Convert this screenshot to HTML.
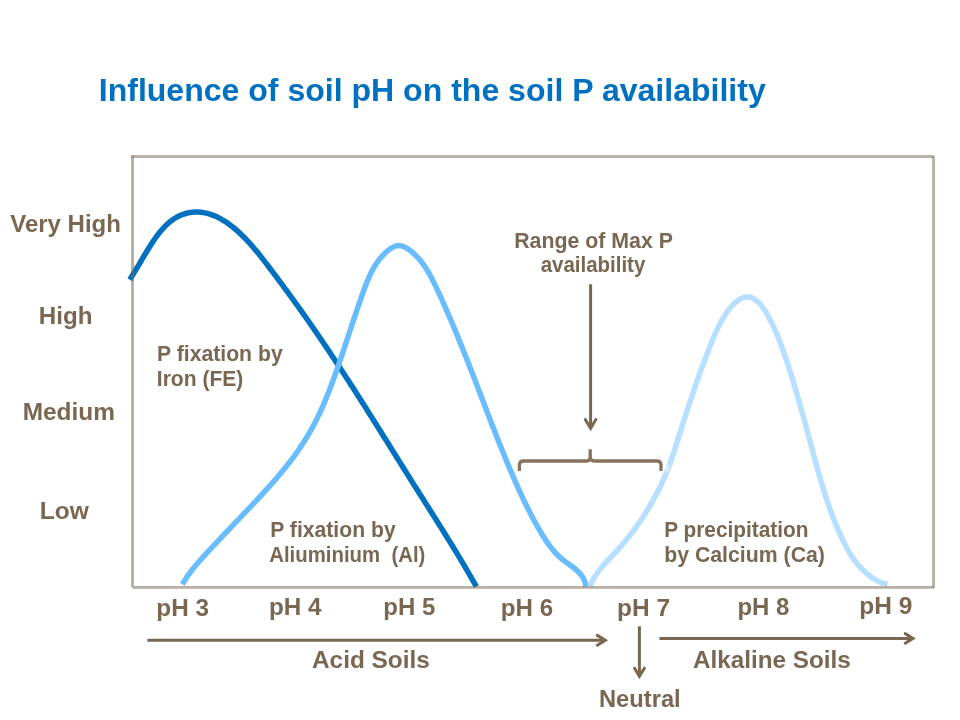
<!DOCTYPE html>
<html><head><meta charset="utf-8"><style>
html,body{margin:0;padding:0;background:#fff;}
body{width:960px;height:720px;overflow:hidden;position:relative;}
svg{position:absolute;left:0;top:0;will-change:transform;}
text{font-family:"Liberation Sans",sans-serif;font-weight:bold;fill:#7a6752;}
</style></head><body>
<svg width="960" height="720" viewBox="0 0 960 720">
<g fill="none" stroke-width="5.5" stroke-linejoin="round">
<path d="M129.75,279.65 L131.30,277.22 L132.81,274.79 L134.30,272.35 L135.77,269.92 L137.23,267.48 L138.68,265.03 L140.12,262.59 L141.56,260.13 L143.02,257.67 L144.48,255.20 L145.97,252.72 L147.48,250.23 L149.02,247.73 L150.59,245.23 L152.21,242.73 L153.86,240.25 L155.57,237.80 L157.33,235.39 L159.14,233.03 L161.02,230.74 L162.95,228.52 L164.96,226.40 L167.04,224.38 L169.19,222.47 L171.42,220.68 L173.74,219.04 L176.15,217.54 L178.65,216.20 L181.23,215.03 L183.88,214.04 L186.59,213.24 L189.35,212.62 L192.15,212.21 L194.97,212.00 L197.81,212.00 L200.66,212.20 L203.50,212.60 L206.32,213.17 L209.12,213.92 L211.88,214.82 L214.59,215.86 L217.25,217.05 L219.85,218.36 L222.39,219.79 L224.89,221.32 L227.33,222.95 L229.72,224.66 L232.05,226.45 L234.34,228.30 L236.57,230.21 L238.75,232.16 L240.88,234.15 L242.96,236.17 L245.00,238.22 L247.00,240.31 L248.96,242.42 L250.89,244.57 L252.78,246.73 L254.65,248.92 L256.49,251.13 L258.30,253.35 L260.10,255.60 L261.88,257.85 L263.64,260.12 L265.40,262.40 L267.15,264.69 L268.89,266.98 L270.63,269.28 L272.37,271.58 L274.10,273.88 L275.84,276.19 L277.57,278.50 L279.30,280.81 L281.02,283.13 L282.74,285.45 L284.46,287.78 L286.18,290.11 L287.89,292.44 L289.60,294.77 L291.30,297.11 L293.00,299.45 L294.69,301.79 L296.38,304.14 L298.07,306.49 L299.75,308.84 L301.42,311.19 L303.09,313.55 L304.76,315.91 L306.42,318.28 L308.08,320.64 L309.73,323.01 L311.38,325.38 L313.02,327.76 L314.66,330.14 L316.30,332.52 L317.93,334.90 L319.56,337.28 L321.19,339.67 L322.81,342.06 L324.43,344.45 L326.04,346.85 L327.65,349.24 L329.26,351.64 L330.86,354.04 L332.46,356.44 L334.06,358.85 L335.65,361.26 L337.24,363.67 L338.83,366.08 L340.42,368.49 L342.00,370.91 L343.58,373.32 L345.15,375.74 L346.73,378.16 L348.30,380.58 L349.87,383.01 L351.43,385.43 L352.99,387.86 L354.56,390.29 L356.11,392.72 L357.67,395.15 L359.22,397.59 L360.77,400.02 L362.32,402.46 L363.87,404.90 L365.42,407.34 L366.96,409.78 L368.50,412.22 L370.04,414.66 L371.58,417.10 L373.12,419.55 L374.66,421.99 L376.20,424.44 L377.73,426.88 L379.26,429.33 L380.80,431.78 L382.33,434.22 L383.86,436.67 L385.39,439.12 L386.92,441.57 L388.45,444.02 L389.98,446.47 L391.51,448.92 L393.04,451.37 L394.57,453.82 L396.10,456.27 L397.64,458.72 L399.17,461.16 L400.70,463.61 L402.23,466.06 L403.76,468.51 L405.30,470.96 L406.83,473.40 L408.37,475.85 L409.90,478.30 L411.44,480.74 L412.98,483.18 L414.52,485.63 L416.06,488.07 L417.61,490.51 L419.15,492.95 L420.69,495.39 L422.24,497.83 L423.78,500.27 L425.33,502.71 L426.87,505.15 L428.42,507.59 L429.96,510.03 L431.51,512.47 L433.05,514.91 L434.59,517.35 L436.13,519.80 L437.67,522.24 L439.20,524.69 L440.74,527.13 L442.27,529.58 L443.80,532.03 L445.32,534.48 L446.85,536.93 L448.37,539.39 L449.89,541.84 L451.40,544.30 L452.91,546.76 L454.42,549.23 L455.92,551.69 L457.42,554.16 L458.91,556.63 L460.40,559.10 L461.88,561.58 L463.36,564.06 L464.83,566.54 L466.30,569.03 L467.76,571.52 L469.21,574.02 L470.66,576.51 L472.10,579.02 L473.54,581.52 L474.97,584.03 L476.39,586.55" stroke="#0070c0"/>
<path d="M182.52,584.41 L184.50,580.86 L186.64,577.42 L188.93,574.08 L191.35,570.82 L193.87,567.64 L196.47,564.53 L199.14,561.46 L201.86,558.43 L204.61,555.43 L207.36,552.45 L210.11,549.47 L212.87,546.50 L215.64,543.54 L218.41,540.59 L221.18,537.64 L223.95,534.70 L226.73,531.76 L229.51,528.83 L232.30,525.89 L235.09,522.96 L237.88,520.03 L240.68,517.10 L243.48,514.16 L246.28,511.22 L249.08,508.28 L251.87,505.32 L254.66,502.37 L257.44,499.40 L260.22,496.42 L262.97,493.43 L265.72,490.42 L268.44,487.40 L271.14,484.37 L273.83,481.31 L276.48,478.24 L279.11,475.15 L281.71,472.03 L284.27,468.89 L286.80,465.73 L289.30,462.54 L291.75,459.32 L294.16,456.08 L296.53,452.80 L298.85,449.49 L301.12,446.15 L303.34,442.78 L305.50,439.37 L307.61,435.92 L309.65,432.43 L311.64,428.91 L313.57,425.34 L315.44,421.74 L317.26,418.11 L319.02,414.45 L320.74,410.76 L322.41,407.05 L324.04,403.31 L325.62,399.55 L327.17,395.78 L328.68,391.99 L330.16,388.18 L331.60,384.37 L333.02,380.55 L334.41,376.72 L335.78,372.90 L337.13,369.07 L338.46,365.24 L339.77,361.42 L341.07,357.60 L342.36,353.78 L343.64,349.96 L344.91,346.14 L346.17,342.32 L347.43,338.50 L348.69,334.68 L349.95,330.86 L351.21,327.03 L352.48,323.21 L353.76,319.37 L355.04,315.54 L356.33,311.70 L357.64,307.85 L358.96,304.00 L360.30,300.14 L361.66,296.27 L363.04,292.40 L364.45,288.52 L365.92,284.66 L367.45,280.84 L369.07,277.06 L370.81,273.36 L372.67,269.74 L374.69,266.23 L376.87,262.83 L379.25,259.58 L381.83,256.48 L384.65,253.55 L387.71,250.81 L391.03,248.32 L394.56,246.39 L398.22,245.47 L401.93,245.91 L405.59,247.49 L409.11,249.78 L412.39,252.37 L415.44,255.14 L418.27,258.08 L420.90,261.16 L423.34,264.39 L425.63,267.72 L427.78,271.16 L429.81,274.68 L431.74,278.28 L433.58,281.92 L435.37,285.60 L437.11,289.30 L438.83,293.01 L440.53,296.72 L442.22,300.43 L443.88,304.14 L445.53,307.86 L447.16,311.57 L448.78,315.30 L450.38,319.02 L451.97,322.75 L453.54,326.48 L455.10,330.21 L456.65,333.95 L458.19,337.69 L459.71,341.43 L461.23,345.18 L462.74,348.93 L464.24,352.68 L465.73,356.44 L467.21,360.20 L468.69,363.97 L470.16,367.74 L471.63,371.51 L473.09,375.29 L474.55,379.07 L476.00,382.86 L477.45,386.64 L478.91,390.43 L480.36,394.22 L481.80,398.01 L483.25,401.80 L484.71,405.59 L486.16,409.38 L487.61,413.17 L489.07,416.96 L490.53,420.75 L492.00,424.54 L493.47,428.33 L494.95,432.11 L496.44,435.89 L497.93,439.67 L499.43,443.44 L500.94,447.21 L502.46,450.98 L503.98,454.74 L505.52,458.49 L507.08,462.24 L508.64,465.99 L510.21,469.72 L511.80,473.45 L513.41,477.18 L515.03,480.89 L516.66,484.60 L518.31,488.30 L519.99,491.99 L521.69,495.67 L523.41,499.33 L525.16,502.98 L526.94,506.62 L528.75,510.24 L530.59,513.84 L532.47,517.43 L534.39,521.00 L536.35,524.54 L538.36,528.07 L540.41,531.57 L542.50,535.05 L544.66,538.49 L546.89,541.88 L549.22,545.19 L551.67,548.41 L554.26,551.51 L557.00,554.47 L559.92,557.28 L563.04,559.92 L566.33,562.40 L569.67,564.81 L572.98,567.23 L576.13,569.75 L579.03,572.45 L581.57,575.42 L583.64,578.75 L585.14,582.52 L585.95,586.81" stroke="#69bdff"/>
<path d="M590.04,586.43 L591.32,583.29 L592.78,580.28 L594.41,577.38 L596.19,574.57 L598.10,571.86 L600.13,569.22 L602.24,566.64 L604.44,564.11 L606.70,561.62 L608.99,559.16 L611.31,556.71 L613.64,554.26 L615.95,551.80 L618.23,549.32 L620.47,546.81 L622.67,544.27 L624.83,541.70 L626.95,539.11 L629.04,536.48 L631.09,533.84 L633.11,531.16 L635.09,528.46 L637.04,525.74 L638.96,522.99 L640.85,520.22 L642.71,517.43 L644.53,514.61 L646.33,511.78 L648.09,508.92 L649.82,506.04 L651.52,503.14 L653.18,500.22 L654.80,497.28 L656.38,494.32 L657.93,491.34 L659.43,488.34 L660.89,485.32 L662.31,482.29 L663.69,479.23 L665.02,476.16 L666.30,473.07 L667.54,469.96 L668.74,466.83 L669.90,463.70 L671.03,460.55 L672.13,457.38 L673.21,454.21 L674.26,451.03 L675.30,447.84 L676.32,444.64 L677.33,441.44 L678.33,438.24 L679.33,435.03 L680.33,431.82 L681.34,428.62 L682.35,425.41 L683.37,422.21 L684.40,419.00 L685.43,415.80 L686.46,412.60 L687.51,409.40 L688.56,406.21 L689.61,403.01 L690.68,399.82 L691.75,396.64 L692.83,393.45 L693.91,390.27 L695.01,387.09 L696.11,383.92 L697.22,380.75 L698.34,377.59 L699.46,374.43 L700.60,371.27 L701.74,368.12 L702.89,364.98 L704.05,361.84 L705.22,358.70 L706.40,355.58 L707.59,352.45 L708.79,349.34 L710.00,346.23 L711.23,343.13 L712.48,340.05 L713.76,336.97 L715.09,333.91 L716.47,330.87 L717.91,327.86 L719.41,324.86 L721.00,321.89 L722.66,318.95 L724.43,316.05 L726.30,313.17 L728.28,310.34 L730.39,307.59 L732.66,304.99 L735.12,302.60 L737.79,300.48 L740.67,298.71 L743.68,297.44 L746.73,296.87 L749.73,297.13 L752.62,298.15 L755.39,299.80 L757.99,301.95 L760.40,304.45 L762.59,307.18 L764.55,310.02 L766.36,312.93 L768.07,315.87 L769.70,318.84 L771.26,321.83 L772.74,324.86 L774.17,327.90 L775.54,330.97 L776.85,334.05 L778.12,337.15 L779.34,340.27 L780.53,343.40 L781.68,346.54 L782.81,349.69 L783.91,352.85 L785.00,356.02 L786.08,359.19 L787.14,362.36 L788.18,365.54 L789.21,368.72 L790.23,371.91 L791.24,375.10 L792.24,378.30 L793.22,381.50 L794.19,384.71 L795.15,387.91 L796.11,391.13 L797.05,394.34 L797.99,397.56 L798.91,400.78 L799.83,404.00 L800.74,407.23 L801.65,410.46 L802.55,413.69 L803.44,416.93 L804.33,420.17 L805.21,423.40 L806.09,426.65 L806.97,429.89 L807.84,433.13 L808.71,436.38 L809.58,439.63 L810.45,442.87 L811.32,446.12 L812.18,449.37 L813.05,452.62 L813.92,455.87 L814.80,459.12 L815.68,462.37 L816.57,465.61 L817.47,468.86 L818.37,472.09 L819.29,475.33 L820.22,478.56 L821.16,481.78 L822.12,485.00 L823.09,488.21 L824.08,491.42 L825.09,494.62 L826.12,497.81 L827.17,500.99 L828.25,504.16 L829.35,507.32 L830.47,510.47 L831.62,513.61 L832.80,516.74 L834.01,519.86 L835.25,522.96 L836.52,526.05 L837.83,529.13 L839.17,532.19 L840.54,535.24 L841.96,538.27 L843.41,541.29 L844.90,544.29 L846.44,547.27 L848.03,550.22 L849.69,553.13 L851.44,555.98 L853.29,558.77 L855.26,561.47 L857.37,564.08 L859.62,566.58 L861.99,568.99 L864.44,571.32 L866.95,573.58 L869.53,575.74 L872.20,577.76 L874.97,579.59 L877.87,581.19 L880.91,582.52 L884.12,583.53 L887.52,584.19" stroke="#b7dfff"/>
</g>
<g fill="rgba(122,103,82,0.52)">
<rect x="131.5" y="155.1" width="802.1" height="2.9"/>
<rect x="932.1" y="156.1" width="2.9" height="431.4"/>
<rect x="132.5" y="586" width="801.5" height="2.8"/>
<rect x="131" y="155.4" width="3" height="431.5"/>
</g>
<g fill="none" stroke="#7a6752" stroke-width="3" stroke-linejoin="miter" stroke-linecap="butt">
<path d="M590.6,284.2 V428"/>
<path d="M147.3,640.3 H605"/>
<path d="M639.4,626.3 V676"/>
<path d="M659.4,638.4 H913"/>
</g>
<g fill="none" stroke="#7a6752" stroke-width="3" stroke-linejoin="miter" stroke-miterlimit="10" stroke-linecap="round">
<path d="M585.3,419.6 L590.6,428.4 L595.9,419.6"/>
<path d="M597.3,635.4 L605.3,640.3 L597.3,645.2"/>
<path d="M634.6,668.2 L639.4,676.4 L644.4,668.2"/>
<path d="M905.2,633.6 L913,638.4 L905.2,643.2"/>
</g>
<defs><filter id="bl" x="-2" y="-2" width="5" height="5"><feGaussianBlur stdDeviation="1.2"/></filter></defs>
<ellipse cx="667.2" cy="468.5" rx="1.6" ry="4.2" transform="rotate(18 667.2 468.5)" fill="#fff" opacity="0.75" filter="url(#bl)"/>
<g fill="none" stroke="#86735d" stroke-width="3.3" stroke-linejoin="round" stroke-linecap="butt">
<path d="M519.4,471 V465 Q519.4,461 523.4,461 H586.6 Q590.2,461 590.2,457 V449.2 M590.2,457 Q590.2,461 594.2,461 H657 Q661,461 661,465 V471"/>
</g>
<text transform="translate(98.75 100.9) scale(1.0013 1.0)" font-size="32" style="fill:#0070c0">Influence of soil pH on the soil P availability</text>
<text transform="translate(10.2 231.8) scale(1.0 1.025)" font-size="24">Very High</text>
<text transform="translate(38.73 323.8) scale(1.009 1.025)" font-size="24">High</text>
<text transform="translate(22.67 419.9) scale(1.0172 1.025)" font-size="24">Medium</text>
<text transform="translate(39.75 518.9) scale(1.0239 1.025)" font-size="24">Low</text>
<text transform="translate(157.11 360.8) scale(0.9936 1.0)" font-size="21.33">P fixation by</text>
<text transform="translate(156.81 385.8) scale(0.9872 1.0)" font-size="21.33">Iron (FE)</text>
<text transform="translate(270.26 536.75) scale(0.9924 1.0)" font-size="21.33">P fixation by</text>
<text transform="translate(269.25 561.9) scale(0.9549 1.0)" font-size="21.33">Aliuminium&#160;&#160;(Al)</text>
<text transform="translate(664.22 536.75) scale(0.9767 1.0)" font-size="21.33">P precipitation</text>
<text transform="translate(664.2 561.9) scale(0.9975 1.0)" font-size="21.33">by Calcium (Ca)</text>
<text x="514.2" y="247.8" font-size="21.33">Range of Max P</text>
<text transform="translate(540.64 272.4) scale(0.9602 1.0)" font-size="21.33">availability</text>
<text transform="translate(156.37 615.6) scale(1.0143 1.0)" font-size="24">pH 3</text>
<text transform="translate(268.98 615.4) scale(1.012 1.0)" font-size="24">pH 4</text>
<text x="383.3" y="614.75" font-size="24">pH 5</text>
<text transform="translate(500.79 615.5) scale(1.0061 1.0)" font-size="24">pH 6</text>
<text transform="translate(616.96 615.5) scale(1.0204 1.0)" font-size="24">pH 7</text>
<text x="737.4" y="615.3" font-size="24">pH 8</text>
<text transform="translate(859.21 613.6) scale(1.0204 1.0)" font-size="24">pH 9</text>
<text transform="translate(311.98 667.7) scale(1.0158 1.0)" font-size="24">Acid Soils</text>
<text transform="translate(693.09 667.7) scale(1.011 1.0)" font-size="24">Alkaline Soils</text>
<text transform="translate(598.92 706.9) scale(0.9899 1.0)" font-size="24">Neutral</text>
</svg>
</body></html>
